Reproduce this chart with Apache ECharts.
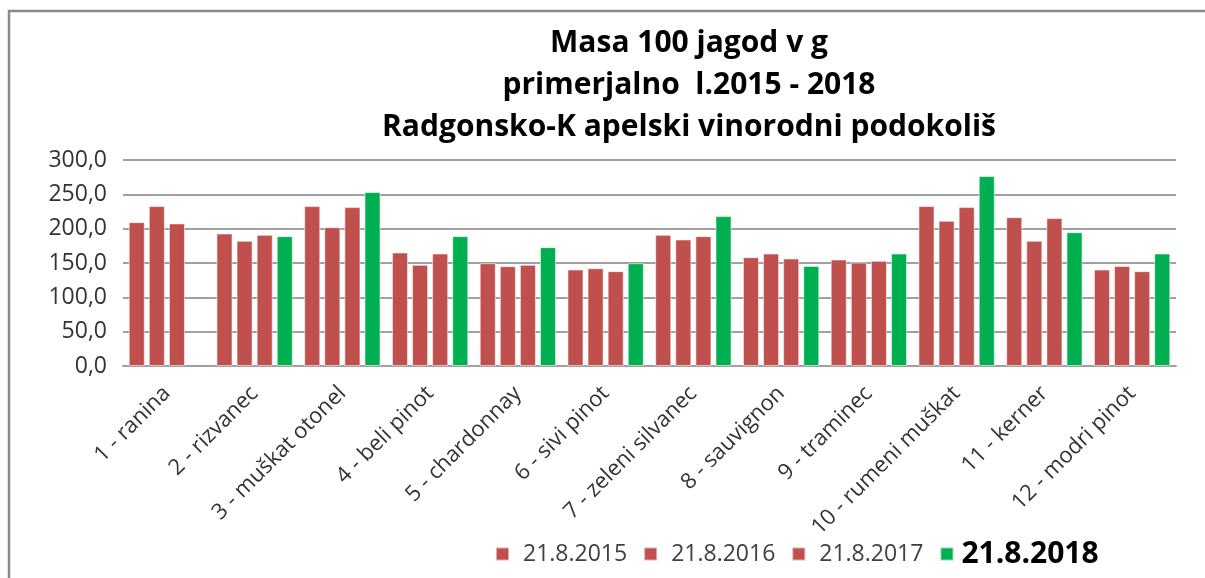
<!DOCTYPE html>
<html>
<head>
<meta charset="utf-8">
<script src="https://cdn.jsdelivr.net/npm/echarts@6/dist/echarts.min.js"></script>
<style>
  html, body { margin: 0; padding: 0; background: #fff; }
  #chart { width: 1205px; height: 578px; }
</style>
</head>
<body>
<div id="chart"></div>
<script>
// sorte (kategorije)
const categories = [
  '1 - ranina', '2 - rizvanec', '3 - muškat otonel', '4 - beli pinot',
  '5 - chardonnay', '6 - sivi pinot', '7 - zeleni silvanec', '8 - sauvignon',
  '9 - traminec', '10 - rumeni muškat', '11 - kerner', '12 - modri pinot'
]
const seriesNames = ['21.8.2015', '21.8.2016', '21.8.2017', '21.8.2018']

// masa 100 jagod v g
const mass2015 = [209.5, 193.0, 232.9, 165.3, 149.7, 140.5, 191.0, 158.5, 155.1, 232.9, 216.8, 140.5]
const mass2016 = [232.9, 182.3, 202.2, 147.3, 145.4, 142.4, 184.2, 163.8, 150.7, 211.5, 182.3, 145.8]
const mass2017 = [207.6, 191.0, 231.4, 163.8, 147.3, 138.1, 189.1, 156.5, 153.1, 231.4, 215.4, 138.1]
const mass2018 = [null, 189.1, 253.3, 189.1, 173.1, 149.7, 218.3, 145.8, 163.8, 276.6, 194.9, 163.8]

const yTicks = { min: 0, max: 300, interval: 50 }

const RED = '#c0504d'
const GREEN = '#00b050'
const FONT = '"Open Sans", "Noto Sans", sans-serif'

const chart = echarts.init(document.getElementById('chart'))

const bar = (name, data, color) => ({
  name,
  type: 'bar',
  data,
  barGap: '25%',
  barCategoryGap: '13%',
  itemStyle: {
    color,
    borderColor: 'rgba(255,255,255,0.55)',
    borderWidth: 1
  }
})

chart.setOption({
  animation: false,
  title: {
    text: 'Masa 100 jagod v g\nprimerjalno  l.2015 - 2018\nRadgonsko-K apelski vinorodni podokoliš',
    left: 684,
    top: 17,
    textAlign: 'center',
    textStyle: {
      fontFamily: FONT,
      fontSize: 30,
      fontWeight: 'bold',
      color: '#000',
      lineHeight: 42
    }
  },
  graphic: [{
    type: 'rect',
    shape: { x: 9, y: 11, width: 1400, height: 800 },
    style: { fill: 'none', stroke: '#8a8a8a', lineWidth: 2.5 },
    silent: true
  }],
  legend: {
    left: 490,
    top: 534,
    icon: 'rect',
    itemWidth: 13,
    itemHeight: 13,
    itemGap: 16,
    textStyle: { fontFamily: FONT, fontSize: 23, color: '#404040', padding: [0, 0, 0, 9] },
    data: [
      { name: seriesNames[0] },
      { name: seriesNames[1] },
      { name: seriesNames[2] },
      { name: seriesNames[3], textStyle: { fontSize: 30, fontWeight: 'bold', color: '#000', padding: [0, 0, 0, 3] } }
    ]
  },
  grid: { left: 123, right: 29, top: 160, bottom: 212 },
  xAxis: {
    type: 'category',
    data: categories,
    axisTick: { show: false },
    axisLine: { lineStyle: { color: '#a0a0a0', width: 2 } },
    axisLabel: {
      interval: 0,
      rotate: 45,
      margin: 24,
      fontFamily: FONT,
      fontSize: 22,
      color: '#333'
    }
  },
  yAxis: {
    type: 'value',
    min: yTicks.min,
    max: yTicks.max,
    interval: yTicks.interval,
    axisLine: { show: false },
    axisTick: { show: false },
    splitLine: { lineStyle: { color: '#a0a0a0', width: 2 } },
    axisLabel: {
      margin: 16,
      fontFamily: FONT,
      fontSize: 23,
      color: '#333',
      formatter: v => v.toFixed(1).replace('.', ',')
    }
  },
  series: [
    bar(seriesNames[0], mass2015, RED),
    bar(seriesNames[1], mass2016, RED),
    bar(seriesNames[2], mass2017, RED),
    bar(seriesNames[3], mass2018, GREEN)
  ]
})
</script>
</body>
</html>
